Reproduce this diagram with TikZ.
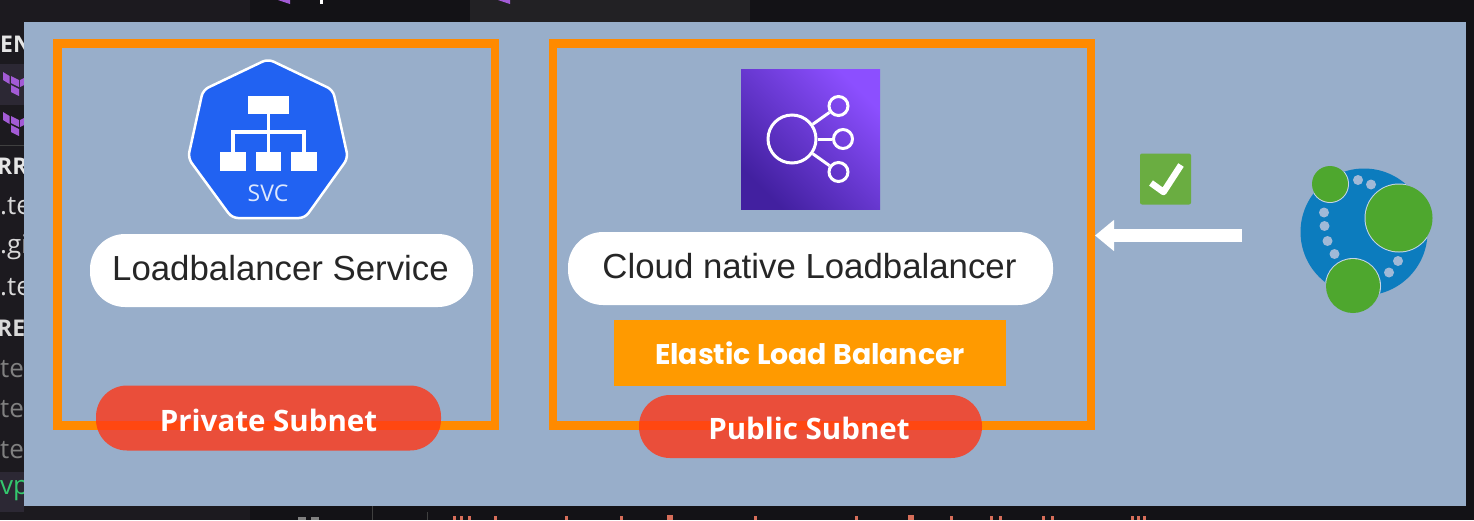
\documentclass[tikz,border=0pt]{standalone}
\usepackage{fontspec}
\setmainfont{Liberation Sans}
\newfontfamily\pillfont{Open Sans}
\newfontfamily\plainopen{Open Sans}
\newfontfamily\elbfont{Poppins}
\usetikzlibrary{arrows.meta,shadings}
\definecolor{panelc}{RGB}{152,174,202}
\definecolor{darkc}{RGB}{19,18,22}
\definecolor{sidec}{RGB}{28,26,31}
\definecolor{tabc}{RGB}{34,33,36}
\definecolor{rowc}{RGB}{44,40,52}
\definecolor{termc}{RGB}{163,91,214}
\definecolor{framec}{RGB}{255,138,0}
\definecolor{elbc}{RGB}{255,154,0}
\definecolor{pillc}{RGB}{255,55,22}
\definecolor{svcblue}{RGB}{33,98,242}
\definecolor{neoblue}{RGB}{12,124,190}
\definecolor{neogreen}{RGB}{78,167,46}
\definecolor{neodot}{RGB}{160,185,215}
\definecolor{checkc}{RGB}{106,173,65}
\definecolor{awsdark}{RGB}{66,32,160}
\definecolor{awslight}{RGB}{140,79,255}
\definecolor{salmon}{RGB}{214,110,90}
\tikzset{
  framebox/.style={draw=framec,line width=8.5pt,fill=none,inner sep=0pt},
  whitepill/.style={fill=white,rounded corners=35pt,inner sep=0pt},
  whitetext/.style={inner sep=0pt,text=black!85,font=\fontsize{34.8}{38}\selectfont},
  redpill/.style={fill=pillc,fill opacity=.8,rounded corners=31pt,inner sep=0pt},
  redtext/.style={inner sep=0pt,text=white,font=\pillfont\bfseries\fontsize{29.5}{32}\selectfont},
  svcbox/.style={fill=white},
  side/.style={anchor=west,inner sep=0pt,font=\plainopen\fontsize{26}{28}\selectfont},
  sidebold/.style={anchor=west,inner sep=0pt,font=\plainopen\bfseries\fontsize{23}{25}\selectfont},
  smallring/.style={draw=white,line width=3pt,circle,inner sep=0pt,minimum size=19pt},
  neoball/.style={fill=neogreen},
  neospot/.style={fill=neodot},
  termpiece/.style={fill=termc},
}
\begin{document}
\begin{tikzpicture}[x=1pt,y=-1pt]
\useasboundingbox (0,0) rectangle (1474,520);
\fill[darkc] (0,0) rectangle (1474,520);
% editor fragments round the panel
\fill[sidec] (0,0) rectangle (250,22);
\fill[tabc] (470,0) rectangle (750,22);
\fill[sidec] (0,22) rectangle (24,520);
\fill[sidec] (0,506) rectangle (250,520);
\fill[rowc] (0,64) rectangle (24,105);
\fill[rowc] (0,472) rectangle (24,512);
\draw[gray!50!black] (0,145) -- (24,145);
\node[sidebold,text=white!90!black] (s1) at (0,44) {EN};
\node[sidebold,text=white!90!black] (s2) at (-3,166) {RR};
\node[side,text=white!85!black] (s3) at (0,206) {.te};
\node[side,text=white!85!black] (s4) at (0,247) {.gi};
\node[side,text=white!85!black] (s5) at (0,287) {.te};
\node[sidebold,text=white!85!black] (s6) at (-3,328) {RE};
\node[side,text=white!50!black] (s7) at (0,369) {ter};
\node[side,text=white!50!black] (s8) at (0,409) {ter};
\node[side,text=white!50!black] (s9) at (0,450) {ter};
\node[side,text={rgb,255:red,52;green,200;blue,110}] (s10) at (0,491) {vp};
\foreach \yy in {0,40}{
  \fill[termpiece] (3,72+\yy) -- (9.5,76+\yy) -- (9.5,84+\yy) -- (3,80+\yy) -- cycle;
  \fill[termpiece] (11,76+\yy) -- (19,80+\yy) -- (19,87+\yy) -- (11,83+\yy) -- cycle;
  \fill[termpiece] (11,85+\yy) -- (19,89+\yy) -- (19,96+\yy) -- (11,92+\yy) -- cycle;
  \fill[termpiece] (20,80+\yy) -- (24,78+\yy) -- (24,85+\yy) -- (20,87+\yy) -- cycle;
}
\fill[termc] (278,0) -- (290,0) -- (290,4) -- cycle;
\fill[termc] (498,0) -- (510,0) -- (510,4) -- cycle;
\fill[white] (320,0) rectangle (323,4);
\draw[gray!50!black] (372,506) -- (372,520);
\draw[gray!50!black] (427,512) -- (427,520);
\foreach \xx in {453,460,468,494,565,620,754,855,950,990,999,1042,1051,1131,1137,1143}{
  \fill[salmon] (\xx,516) rectangle +(2.5,4);
}
\fill[salmon] (667,515) rectangle +(6,5);
\fill[salmon] (908,515) rectangle +(6,5);
\fill[gray] (298,517) rectangle (306,520);
\fill[gray] (311,517) rectangle (319,520);
% panel
\fill[panelc] (23.5,22) rectangle (1466,506);
% left group
\node[framebox,minimum width=437.5pt,minimum height=382pt] (privbox) at (276,234.5) {};
\draw[fill=svcblue,draw=white,line width=2.5pt,rounded corners=6pt] (268,59) -- (333,90) -- (348,158) -- (305,218) -- (232,218) -- (188,158) -- (203,90) -- cycle;
\node[svcbox,minimum width=41pt,minimum height=18pt,inner sep=0pt] (svctop) at (268.5,105) {};
\node[svcbox,minimum width=26pt,minimum height=19pt,inner sep=0pt] (svcl) at (233,161.5) {};
\node[svcbox,minimum width=25pt,minimum height=19pt,inner sep=0pt] (svcm) at (268.5,161.5) {};
\node[svcbox,minimum width=26pt,minimum height=19pt,inner sep=0pt] (svcr) at (304,161.5) {};
\draw[white,line width=3.5pt] (svctop.south) -- (svcm.north);
\draw[white,line width=3.5pt] (svcl.north) |- (268.5,132) -| (svcr.north);
\node[text=white!85!svcblue,inner sep=0pt,font=\plainopen\fontsize{23}{24}\selectfont] (svctext) at (268,193.5) {SVC};
\node[whitepill,minimum width=383pt,minimum height=73pt] (lbsvc) at (281.5,270.5) {};
\node[whitetext] (lbsvctext) at (280.5,268) {Loadbalancer Service};
\node[redpill,minimum width=345pt,minimum height=65pt] (privpill) at (268.5,418) {};
\node[redtext] (privtext) at (268.5,420.5) {Private Subnet};
% right group
\node[framebox,minimum width=538pt,minimum height=382pt] (pubbox) at (822,234.5) {};
\node[minimum width=139pt,minimum height=140pt,inner sep=0pt,shading=axis,left color=awsdark,right color=awslight,shading angle=135] (awsicon) at (810.5,139) {};
\node[draw=white,line width=3pt,circle,inner sep=0pt,minimum size=48pt] (lbcore) at (792,139) {};
\node[smallring] (lba) at (838.5,106) {};
\node[smallring] (lbb) at (843,139) {};
\node[smallring] (lbc) at (838.5,172) {};
\draw[white,line width=3pt] (lbcore) -- (lba);
\draw[white,line width=3pt] (lbcore) -- (lbb);
\draw[white,line width=3pt] (lbcore) -- (lbc);
\node[whitepill,minimum width=485pt,minimum height=73pt] (cloudlb) at (810.5,268.5) {};
\node[whitetext] (cloudtext) at (809.5,266) {Cloud native Loadbalancer};
\node[fill=elbc,minimum width=392pt,minimum height=66pt,inner sep=0pt,text=white,font=\elbfont\bfseries\fontsize{28.4}{30}\selectfont] (elb) at (810,353) {\raisebox{-2pt}{Elastic Load Balancer}};
\node[redpill,minimum width=343pt,minimum height=63pt] (pubpill) at (810.5,426.5) {};
\node[redtext] (pubtext) at (809,428.5) {Public Subnet};
% check and arrow
\node[fill=checkc,rounded corners=2pt,minimum size=51pt,inner sep=0pt] (check) at (1165.5,179) {};
\draw[white,line width=6.5pt,line join=round] (1151,183) -- (1163.5,192) -- (1181,165);
\coordinate (arrowstart) at (1242,235.5);
\coordinate (arrowtip) at (1095,235.5);
\draw[white,line width=13pt,-{Triangle[length=19pt,width=30pt]}] (arrowstart) -- (arrowtip);
% neo4j logo
\fill[neoblue] (1364,232) circle[radius=63.5];
\fill[neospot] (1358,180) circle[radius=5];
\fill[neospot] (1371,184.5) circle[radius=5];
\fill[neospot] (1324,212.5) circle[radius=5];
\fill[neospot] (1324.5,226) circle[radius=5];
\fill[neospot] (1327.5,241) circle[radius=5];
\fill[neospot] (1334.5,254) circle[radius=5];
\fill[neospot] (1398,261) circle[radius=5];
\fill[neospot] (1389,272.5) circle[radius=5];
\begin{scope}
  \clip (1364,232) circle[radius=63.5];
  \fill[neodot!60!white] (1330,184) circle[radius=19];
  \fill[neodot!60!white] (1399,218) circle[radius=34.5];
  \fill[neodot!60!white] (1353,286) circle[radius=28];
\end{scope}
\fill[neoball] (1330,184) circle[radius=18];
\fill[neoball] (1399,218) circle[radius=33.5];
\fill[neoball] (1353,286) circle[radius=27];
\end{tikzpicture}
\end{document}
